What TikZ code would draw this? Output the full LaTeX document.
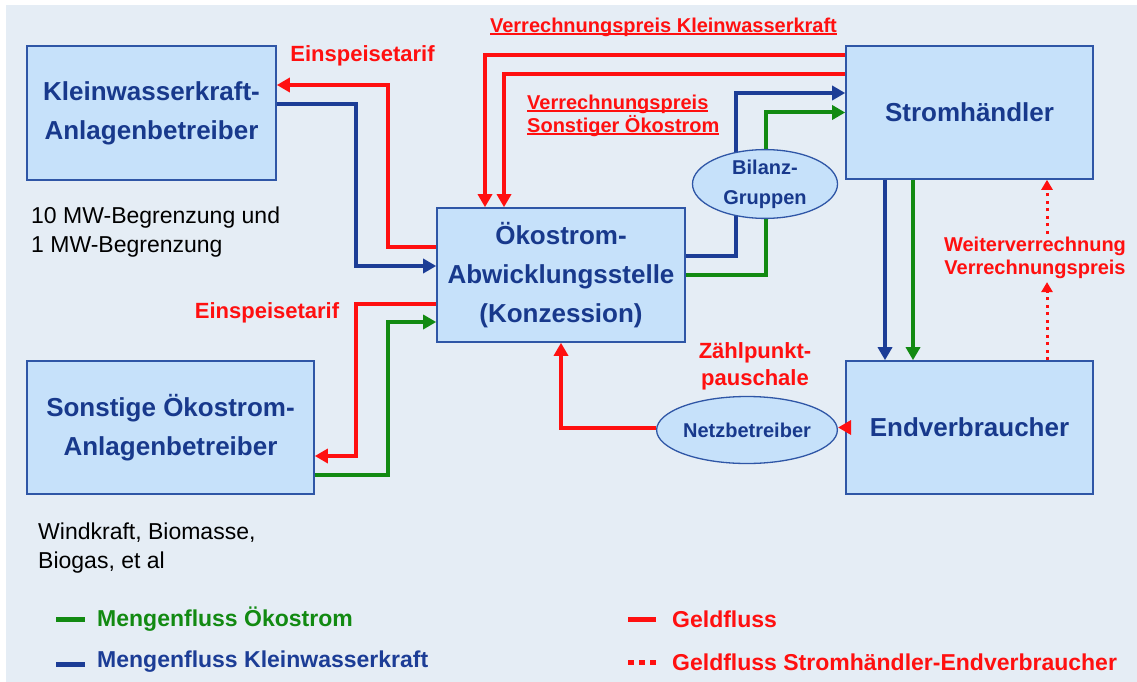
\documentclass[tikz,border=0pt]{standalone}
\usepackage{fontspec}
\setmainfont{Liberation Sans}
\usetikzlibrary{arrows.meta,shapes.geometric}
\definecolor{bgc}{HTML}{E5EDF5}
\definecolor{boxfill}{HTML}{C6E1FA}
\definecolor{boxline}{HTML}{2F56A6}
\definecolor{navy}{HTML}{18398C}
\definecolor{myred}{HTML}{FF1010}
\definecolor{mygreen}{HTML}{128A12}
\definecolor{myblue}{HTML}{1C3D96}
\newcommand\myul[1]{\setbox0\hbox{#1}\rlap{\rule[-2.5pt]{\wd0}{1.6pt}}\box0}
\begin{document}
\begin{tikzpicture}[x=1pt,y=-1pt,
 actor/.style={draw=boxline,line width=1.6pt,fill=boxfill,rectangle,inner sep=0,text=navy,font=\fontsize{26}{39}\selectfont\bfseries,align=center},
 oval/.style={draw=boxline,line width=1.3pt,fill=boxfill,ellipse,inner sep=0,text=navy,font=\fontsize{20}{30}\selectfont\bfseries,align=center},
 money/.style={draw=myred,line width=4pt},
 eco/.style={draw=mygreen,line width=4pt},
 kwk/.style={draw=myblue,line width=4pt},
 arrowhd/.style={-{Triangle[length=13pt,width=14pt]}},
 dothd/.style={-{Triangle[length=10pt,width=11pt]}},
 moneydot/.style={draw=myred,line width=3pt,dash pattern=on 3pt off 4.5pt},
 redlbl/.style={text=myred,font=\fontsize{20}{23}\selectfont\bfseries,align=center,inner sep=0},
 note/.style={text=black,font=\fontsize{23}{29}\selectfont,align=left,inner sep=0,anchor=west},
 legtext/.style={font=\fontsize{23}{28}\selectfont\bfseries,inner sep=0,anchor=west},
]
\useasboundingbox (0,0) rectangle (1137,682);
\fill[bgc] (6,5) rectangle (1137,682);

% boxes
\node[actor,minimum width=249,minimum height=134] (k) at (151.5,113) {Kleinwasserkraft-\\Anlagenbetreiber};
\node[actor,minimum width=287,minimum height=133] (s) at (170.5,427.5) {Sonstige Ökostrom-\\Anlagenbetreiber};
\node[actor,minimum width=248,minimum height=134] (oe) at (561,275) {Ökostrom-\\Abwicklungsstelle\\(Konzession)};
\node[actor,minimum width=247,minimum height=133] (h) at (969.5,112.5) {Stromhändler};
\node[actor,minimum width=247,minimum height=133] (e) at (969.5,427.5) {Endverbraucher};

% notes
\node[note] (n1) at (31,232) {10 MW-Begrenzung und\\1 MW-Begrenzung};
\node[note] (n2) at (38,548) {Windkraft, Biomasse,\\Biogas, et al};

% left connectors
\draw[money,arrowhd] ([yshift=28pt]oe.west) -- ++(-48,0) |- ([yshift=28pt]k.east);
\draw[kwk,arrowhd] ([yshift=9pt]k.east) -- ++(79,0) |- ([yshift=9pt]oe.west);
\draw[money,arrowhd] ([yshift=-29pt]oe.west) -- ++(-80,0) |- ([yshift=-28.5pt]s.east);
\draw[eco,arrowhd] ([yshift=-47.5pt]s.east) -- ++(73,0) |- ([yshift=-47pt]oe.west);

% top connectors
\draw[money,arrowhd] ([yshift=57.5pt]h.west) -| ([xshift=-76pt]oe.north);
\draw[money,arrowhd] ([yshift=38.5pt]h.west) -| ([xshift=-57pt]oe.north);
\draw[kwk,arrowhd] ([yshift=19pt]oe.east) -- ++(50,0) |- ([yshift=19.5pt]h.west);
\draw[eco,arrowhd] (oe.east) -- ++(80,0) |- (h.west);

% right connectors
\draw[kwk,arrowhd] ([xshift=-84.5pt]h.south) -- ([xshift=-84.5pt]e.north);
\draw[eco,arrowhd] ([xshift=-56.5pt]h.south) -- ([xshift=-56.5pt]e.north);

% ellipses
\node[oval,minimum width=145,minimum height=68] (bg) at (765,184) {Bilanz-\\Gruppen};
\node[oval,minimum width=144,minimum height=67] (nb) at (747,430) {Netzbetreiber};

\draw[money,arrowhd] (e.west) -- (e.west -| nb.east);
\draw[money,arrowhd] (nb.west |- e.west) -| (oe.south);

% labels
\node[redlbl,font=\fontsize{22}{26}\selectfont\bfseries] (l1) at (362.5,56) {Einspeisetarif};
\node[redlbl,font=\fontsize{22}{26}\selectfont\bfseries] (l2) at (267,313) {Einspeisetarif};
\node[redlbl] (l3) at (663.5,27) {\myul{Verrechnungspreis Kleinwasserkraft}};
\node[redlbl,align=left,anchor=west] (l4) at (527,115.5) {\myul{Verrechnungspreis}\\\myul{Sonstiger Ökostrom}};
\node[redlbl,font=\fontsize{22}{27}\selectfont\bfseries] (l5) at (755,366) {Zählpunkt-\\pauschale};
\node[redlbl,inner sep=3pt] (wv) at (1035,258) {Weiterverrechnung\\Verrechnungspreis};

\draw[moneydot,dothd] ([xshift=77.5pt]e.north) -- ([xshift=77.5pt]e.north |- wv.south);
\draw[moneydot,dothd] ([xshift=77.5pt]e.north |- wv.north) -- ([xshift=77.5pt]h.south);

% legend
\draw[eco,line width=5pt] (56,619) coordinate (g1) -- (85,619) coordinate (g2);
\node[legtext,text=mygreen] (lg1) at (97,619) {Mengenfluss Ökostrom};
\draw[kwk,line width=5pt] (56,664) coordinate (b1) -- (85,664) coordinate (b2);
\node[legtext,text=myblue] (lg2) at (97,662) {Mengenfluss Kleinwasserkraft};
\draw[money,line width=5pt] (628,619) coordinate (r1) -- (656,619) coordinate (r2);
\node[legtext,text=myred] (lg3) at (672,619) {Geldfluss};
\draw[draw=myred,line width=5pt,dash pattern=on 6pt off 5pt] (628,662) coordinate (d1) -- (656,662) coordinate (d2);
\node[legtext,text=myred] (lg4) at (672,662) {Geldfluss Stromhändler-Endverbraucher};
\end{tikzpicture}
\end{document}
